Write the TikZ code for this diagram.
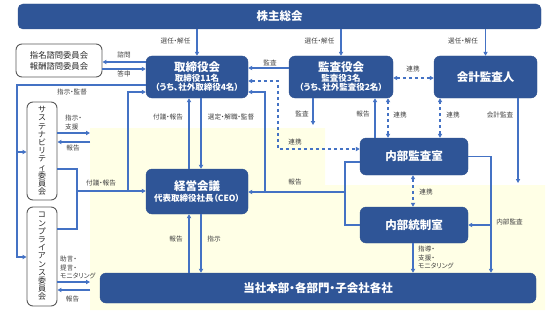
\documentclass[tikz,border=0pt]{standalone}
\usepackage{fontspec}
\setmainfont{Noto Sans CJK JP}[RawFeature=+palt]
\usetikzlibrary{arrows.meta}
\definecolor{boxblue}{HTML}{2F5597}
\definecolor{boxedge}{HTML}{2F528F}
\definecolor{lineblue}{HTML}{4472C4}
\definecolor{zonefill}{HTML}{FFFFE6}
\definecolor{lblgray}{HTML}{404040}
\definecolor{edgegray}{HTML}{595959}

\begin{document}
\begin{tikzpicture}[
  x=1pt,y=-1pt,
  bluebox/.style={draw=boxedge, fill=boxblue, rounded corners=6pt, text=white, font=\bfseries\fontsize{8.5}{9}\selectfont, align=center, inner sep=1pt},
  whitebox/.style={draw=edgegray, fill=white, rounded corners=6pt, line width=.9pt, align=center, text=black!85, inner sep=1pt},
  vbox/.style={whitebox, minimum width=30, font=\fontsize{8}{8.2}\selectfont},
  title/.style={font=\bfseries\fontsize{11.5}{13}\selectfont},
  link/.style={draw=lineblue, line width=1.2pt},
  flow/.style={link, -{Triangle[length=4pt,width=4.2pt]}},
  dflow/.style={link, dash pattern=on 3.5pt off 2.5pt, {Triangle[length=4pt,width=4.2pt]}-{Triangle[length=4pt,width=4.2pt]}},
  note/.style={font=\fontsize{6.6}{8.5}\selectfont, text=lblgray, inner sep=0pt, align=left}
]

% Canvas
\path[use as bounding box] (0,0) rectangle (556,313);

% Company zone
\fill[zonefill] (90,128) -- (325,128) -- (325,185) -- (545,185) -- (545,310) -- (90,310) -- cycle;

% Components
\node[bluebox, title, minimum width=523, minimum height=25, rounded corners=5pt] (agm) at (279.5,16.5) {株主総会};

\node[whitebox, minimum width=86, minimum height=33, font=\fontsize{8.3}{11}\selectfont] (nomi) at (59,60.5)
  {指名諮問委員会\\報酬諮問委員会};

\node[bluebox, minimum width=102, minimum height=42] (board) at (197,77)
  {{\fontsize{11.5}{12}\selectfont 取締役会}\\[1pt]取締役11名\\（うち、社外取締役4名）};
\node[bluebox, minimum width=104, minimum height=42] (kansa) at (341,77)
  {{\fontsize{11.5}{12}\selectfont 監査役会}\\[1pt]監査役3名\\（うち、社外監査役2名）};
\node[bluebox, title, minimum width=103, minimum height=42] (auditor) at (485.5,77) {会計監査人};

\node[vbox, minimum height=98] (sus) at (42,151)
  {サ\\ス\\テ\\ナ\\ビ\\リ\\テ\\ィ\\委\\員\\会};
\node[vbox, minimum height=99] (comp) at (42,256.5)
  {コ\\ン\\プ\\ラ\\イ\\ア\\ン\\ス\\委\\員\\会};

\node[bluebox, minimum width=102, minimum height=45] (mgmt) at (197,191.5)
  {{\fontsize{11.5}{12}\selectfont 経営会議}\\[1.5pt]代表取締役社長（CEO）};

\node[bluebox, title, minimum width=108, minimum height=37] (ia) at (414,156.5) {内部監査室};
\node[bluebox, title, minimum width=108, minimum height=36] (ic) at (414,225) {内部統制室};

\node[bluebox, title, minimum width=436, minimum height=30] (ops) at (318,288) {当社本部・各部門・子会社各社};

% Junctions and free ends
\coordinate (spineTop) at (17,85);
\coordinate (spineA) at (17,152);
\coordinate (spineB) at (17,257);
\coordinate (cjoin) at (77,191);
\coordinate (cup) at (128,191);
\coordinate (dcorner) at (278,149);
\coordinate (brk) at (345,192);
\coordinate (bup) at (265,192);
\coordinate (iaR) at (491,225);
\coordinate (zsA) at (90,133);
\coordinate (zsB) at (90,142);
\coordinate (zcA) at (90,282);
\coordinate (zcB) at (90,290);
\coordinate (zk) at (313,125);
\coordinate (za) at (518,183);

% Election by shareholders
\draw[flow] (agm.south -| board.north) -- (board.north);
\draw[flow] (agm.south -| kansa.north) -- (kansa.north);
\draw[flow] (agm.south -| auditor.north) -- (auditor.north);
\node[note] at (175.5,41) {選任・解任};
\node[note] at (319.5,41) {選任・解任};
\node[note] at (463,41) {選任・解任};

% Advisory committees
\draw[flow] (board.west |- 0,62) -- (nomi.east |- 0,62);
\draw[flow] (nomi.east |- 0,69) -- (board.west |- 0,69);
\node[note] at (124,54.5) {諮問};
\node[note] at (124,73.5) {答申};

% Audit and cooperation
\draw[flow] (kansa.west |- 0,68) -- (board.east |- 0,68);
\node[note] at (270,62.5) {監査};
\draw[dflow] (kansa.east |- 0,78) -- (auditor.west |- 0,78);
\node[note] at (413,69) {連携};
\draw[dflow] (board.east |- 0,81) -| (dcorner) -- (dcorner -| ia.west);
\node[note] at (295,142) {連携};
\draw[flow] (zk |- kansa.south) -- (zk);
\node[note] at (302,114) {監査};
\draw[flow] ([xshift=-39pt]ia.north) -- ([xshift=-39pt]ia.north |- kansa.south);
\node[note] at (363,114) {報告};
\draw[dflow] ([xshift=-26pt]ia.north) -- ([xshift=-26pt]ia.north |- kansa.south);
\node[note] at (400,115) {連携};
\draw[dflow] ([xshift=26pt]ia.north) -- ([xshift=26pt]ia.north |- auditor.south);
\node[note] at (453,115) {連携};
\draw[flow] (za |- auditor.south) -- (za);
\node[note] at (500,115) {会計監査};

% Board and management
\draw[flow] ([xshift=-8pt]mgmt.north) -- ([xshift=-8pt]board.south);
\draw[flow] ([xshift=4pt]board.south) -- ([xshift=4pt]mgmt.north);
\node[note] at (168,117) {付議・報告};
\node[note] at (231,117) {選定・解職・監督};
\draw[flow] ([xshift=-8pt]mgmt.south |- ops.north) -- ([xshift=-8pt]mgmt.south);
\draw[flow] ([xshift=4pt]mgmt.south) -- ([xshift=4pt]mgmt.south |- ops.north);
\node[note] at (176,239) {報告};
\node[note] at (214,239) {指示};

% Committees
\draw[flow] (board.west |- spineTop) -- (spineTop) |- (spineB -| comp.west);
\draw[flow] (spineA) -- (spineA -| sus.west);
\node[note] at (72,92) {指示・監督};
\draw[link] (sus.east |- 0,169) -| (cjoin);
\draw[link] (comp.east |- 0,229) -| (cjoin);
\draw[flow] (cjoin) -- (cjoin -| mgmt.west);
\draw[flow] (cup) |- (board.west |- 0,92);
\node[note] at (101,183) {付議・報告};
\draw[flow] (zsA -| sus.east) -- (zsA);
\draw[flow] (zsB) -- (zsB -| sus.east);
\node[note, anchor=west] at (65,122.5) {指示・\\支援};
\node[note] at (73,148) {報告};
\draw[flow] (zcA -| comp.east) -- (zcA);
\draw[flow] (zcB) -- (zcB -| comp.east);
\node[note, anchor=west] at (60,267.5) {助言・\\提言・\\モニタリング};
\node[note] at (72.5,299) {報告};

% Internal audit and control
\draw[link] (ia.west |- 0,162) -| (brk) |- (ic.west);
\draw[flow] (brk) -- (brk -| mgmt.east);
\draw[flow] (bup) |- (board.east |- 0,92);
\node[note] at (295,182) {報告};
\draw[flow] (ia.east) -| (iaR |- ops.north);
\draw[flow] (iaR) -- (ic.east);
\node[note] at (509.5,222) {内部監査};
\draw[dflow] ([xshift=-1pt]ia.south) -- ([xshift=-1pt]ic.north);
\node[note] at (426,192) {連携};
\draw[flow] ([xshift=-1pt]ic.south) -- ([xshift=-1pt]ic.south |- ops.north);
\node[note, anchor=west] at (418,257.5) {指導・\\支援・\\モニタリング};

\end{tikzpicture}
\end{document}
